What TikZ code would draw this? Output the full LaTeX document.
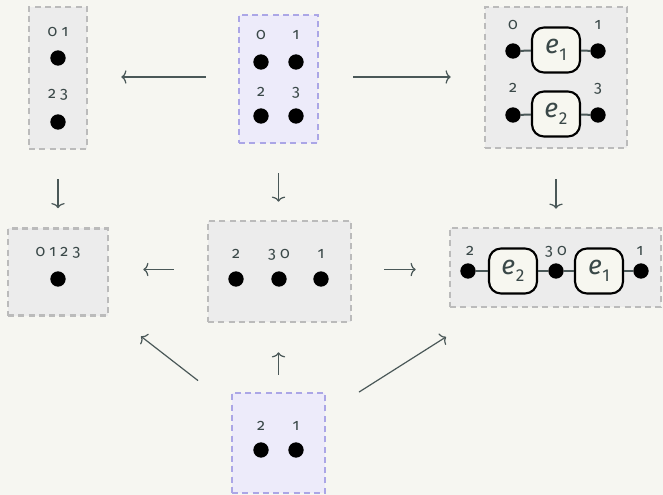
\documentclass[tikz,border=0pt]{standalone}
\usepackage{fontspec}
\setmainfont{Fira Sans}[Numbers=OldStyle]
\usetikzlibrary{arrows.meta}
\definecolor{bg}{HTML}{F6F6F1}
\definecolor{gbox}{HTML}{ECECEC}
\definecolor{gline}{HTML}{BBBBBB}
\definecolor{pbox}{HTML}{EDEBFA}
\definecolor{pline}{HTML}{ABA6E6}
\definecolor{arr}{HTML}{4A5858}
\definecolor{lbl}{HTML}{3A4848}
\definecolor{efill}{HTML}{F7F7F0}
\newcommand{\elab}[1]{{\fontsize{20}{20}\selectfont\itshape e\kern0.5pt\raisebox{-0.28em}{\fontsize{13}{13}\selectfont\upshape\addfontfeatures{Numbers=Lining}#1}}}
\tikzset{
  grp/.style={rectangle, draw=gline, fill=gbox, line width=2pt, dash pattern=on 4.5pt off 3.2pt, inner sep=0pt},
  pgrp/.style={rectangle, draw=pline, fill=pbox, line width=2pt, dash pattern=on 4.5pt off 3.2pt, inner sep=0pt},
  dot/.style={circle, fill=black, inner sep=0pt, minimum size=11.5pt},
  lab/.style={anchor=base, inner sep=0pt, text=lbl, font=\fontsize{12}{12}\selectfont},
  ebox/.style={rectangle, rounded corners=9pt, draw=black, fill=efill, line width=1.6pt, minimum width=36pt, minimum height=33.75pt, inner sep=0pt, text=lbl},
  wire/.style={draw=arr, line width=1.5pt},
  arrow/.style={draw=arr, line width=0.9pt, -{To[length=3.8pt,width=10pt]}},
}
\begin{document}
\begin{tikzpicture}[x=0.75pt,y=-0.75pt]
\useasboundingbox[fill=bg] (0,0) rectangle (663,495);
% boxes
\node[grp, minimum width=43.5pt, minimum height=106.5pt] (A) at (58,78) {};
\node[pgrp, minimum width=59.25pt, minimum height=96pt] (B) at (278.5,79) {};
\node[grp, minimum width=106.5pt, minimum height=105.75pt] (C) at (556,77.5) {};
\node[grp, minimum width=75pt, minimum height=65.25pt] (D) at (58,272) {};
\node[grp, minimum width=107.25pt, minimum height=75.75pt] (E) at (279.5,271.5) {};
\node[grp, minimum width=158.25pt, minimum height=59.25pt] (F) at (555.5,267.5) {};
\node[pgrp, minimum width=69.75pt, minimum height=75pt] (G) at (278.5,443) {};
% box A
\node[lab] (la1) at (58,37) {0 1};
\node[dot] (a1) at (58,58) {};
\node[lab] (la2) at (58,99) {2 3};
\node[dot] (a2) at (58,122) {};
% box B
\node[lab] (lb0) at (261,40) {0};
\node[lab] (lb1) at (296,40) {1};
\node[dot] (b0) at (261,62) {};
\node[dot] (b1) at (296,62) {};
\node[lab] (lb2) at (261,97) {2};
\node[lab] (lb3) at (296,97) {3};
\node[dot] (b2) at (261,116) {};
\node[dot] (b3) at (296,116) {};
% box C
\node[lab] (lc0) at (513,30) {0};
\node[lab] (lc1) at (598,30) {1};
\node[dot] (c0) at (513,51) {};
\node[dot] (c1) at (598,51) {};
\node[ebox] (ce1) at (556,50) {\elab{1}};
\node[lab] (lc2) at (513,93) {2};
\node[lab] (lc3) at (598,93) {3};
\node[dot] (c2) at (513,115) {};
\node[dot] (c3) at (598,115) {};
\node[ebox] (ce2) at (556,114) {\elab{2}};
\draw[wire] (c0) -- (ce1) (ce1) -- (c1) (c2) -- (ce2) (ce2) -- (c3);
% box D
\node[lab] (ld) at (58,257) {0 1 2 3};
\node[dot] (d0) at (58,279) {};
% box E
\node[lab] (le1) at (236,258) {2};
\node[lab] (le2) at (279,258) {3 0};
\node[lab] (le3) at (321,258) {1};
\node[dot] (e1) at (236,279) {};
\node[dot] (e2) at (279,279) {};
\node[dot] (e3) at (321,279) {};
% box F
\node[lab] (lf1) at (470,255) {2};
\node[lab] (lf2) at (556,255) {3 0};
\node[lab] (lf3) at (640,255) {1};
\node[dot] (f1) at (468,271) {};
\node[dot] (f2) at (556,271) {};
\node[dot] (f3) at (641,271) {};
\node[ebox] (fe2) at (513,271) {\elab{2}};
\node[ebox] (fe1) at (599,271) {\elab{1}};
\draw[wire] (f1) -- (fe2) (fe2) -- (f2) (f2) -- (fe1) (fe1) -- (f3);
% box G
\node[lab] (lg1) at (261,430) {2};
\node[lab] (lg2) at (296,430) {1};
\node[dot] (g1) at (261,450) {};
\node[dot] (g2) at (296,450) {};
% arrows
\draw[arrow, shorten <=24pt, shorten >=24.75pt] ([yshift=1.5pt]B.west) -- ([yshift=1.5pt]B.west -| A.east);
\draw[arrow, shorten <=25.5pt, shorten >=24.75pt] ([yshift=1.5pt]B.east) -- ([yshift=1.5pt]B.east -| C.west);
\draw[arrow, shorten <=21.75pt, shorten >=14.25pt] (A.south) -- (A.south |- D.north);
\draw[arrow, shorten <=21.75pt, shorten >=13.5pt] (B.south) -- (B.south |- E.north);
\draw[arrow, shorten <=22.5pt, shorten >=13.5pt] (C.south) -- (C.south |- F.north);
\draw[arrow, shorten <=24.75pt, shorten >=25.5pt] ([yshift=1.5pt]E.west) -- ([yshift=1.5pt]E.west -| D.east);
\draw[arrow, shorten <=24pt, shorten >=24.75pt] ([yshift=1.5pt]E.east) -- ([yshift=1.5pt]E.east -| F.west);
\draw[arrow, shorten <=12.75pt, shorten >=21.75pt] (G.north) -- (G.north |- E.south);
\draw[arrow, shorten <=31pt, shorten >=30pt] (G) -- (D);
\draw[arrow, shorten <=29pt, shorten >=40pt] (G) -- (F);
\end{tikzpicture}
\end{document}
